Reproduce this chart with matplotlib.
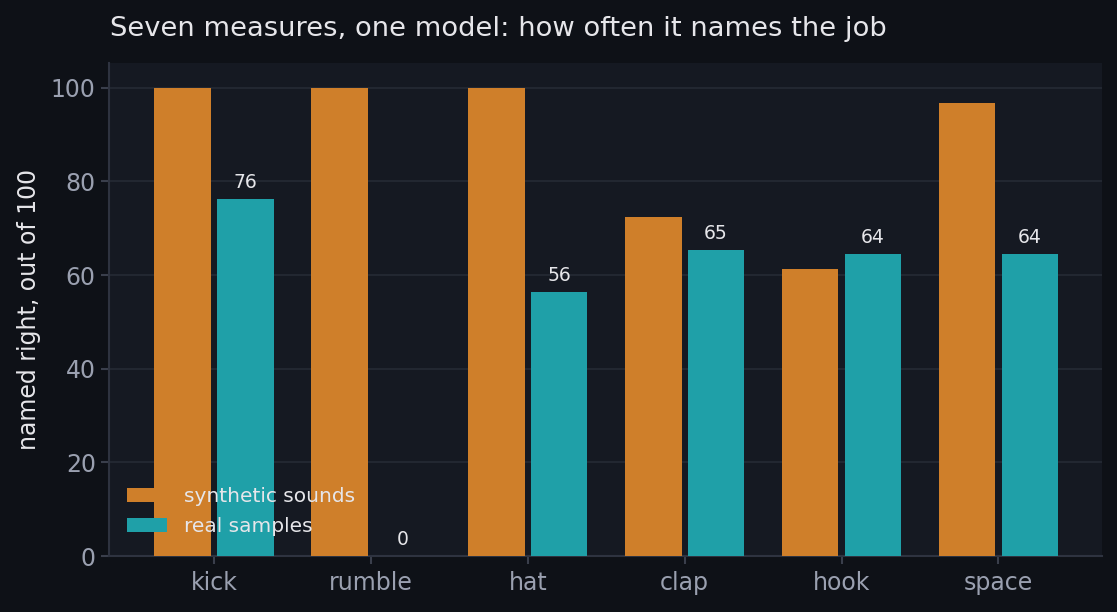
import numpy as np
import matplotlib.pyplot as plt

# data
cats = ['kick', 'rumble', 'hat', 'clap', 'hook', 'space']
synthetic = [100, 100, 100, 72.5, 61.4, 96.8]
real = [76.2, 0, 56.4, 65.4, 64.4, 64.4]

bg = '#0e1117'
panel = '#151922'
orange = '#cf7f2a'
teal = '#1fa0a8'
muted = '#9aa0b0'
light = '#e6e6ea'

fig = plt.figure(figsize=(11.17, 6.12), dpi=100, facecolor=bg)
ax = fig.add_axes([109/1117, 1 - 556/612, (1102-109)/1117, (556-63)/612])
ax.set_facecolor(panel)

x = np.arange(len(cats))
w = 0.36
ax.bar(x - 0.2, synthetic, w, color=orange, label='synthetic sounds', zorder=3)
b2 = ax.bar(x + 0.2, real, w, color=teal, label='real samples', zorder=3)

for rect, v in zip(b2, real):
    ax.text(rect.get_x() + rect.get_width()/2, v + 1.5, f'{v:.0f}',
            ha='center', va='bottom', color=light, fontsize=13.5)

ax.set_xlim(-0.67, 5.66)
ax.set_ylim(0, 105.3)
ax.set_xticks(x)
ax.set_xticklabels(cats)
ax.set_yticks([0, 20, 40, 60, 80, 100])
ax.grid(axis='y', color='#252a35', linewidth=1.2, zorder=0)
ax.tick_params(colors='#3a3f4c', labelcolor=muted, labelsize=17, length=6, width=1.5)
ax.tick_params(axis='x', pad=5)
for s in ax.spines.values():
    s.set_visible(False)
ax.spines['left'].set_visible(True)
ax.spines['bottom'].set_visible(True)
ax.spines['left'].set_color('#2e3340')
ax.spines['bottom'].set_color('#2e3340')
ax.spines['left'].set_linewidth(1.5)
ax.spines['bottom'].set_linewidth(1.5)

ax.set_ylabel('named right, out of 100', color=light, fontsize=17, labelpad=7)
fig.text(110/1117, 1 - 29/612, 'Seven measures, one model: how often it names the job',
         color=light, fontsize=19.7, ha='left', va='center')

leg = ax.legend(loc='lower left', frameon=False, fontsize=14.5, handlelength=2.0,
                handleheight=0.7, handletextpad=0.8, labelspacing=0.55,
                bbox_to_anchor=(0.0, 0.003))
for t in leg.get_texts():
    t.set_color(light)

fig.savefig('out.png', dpi=100, facecolor=bg)
